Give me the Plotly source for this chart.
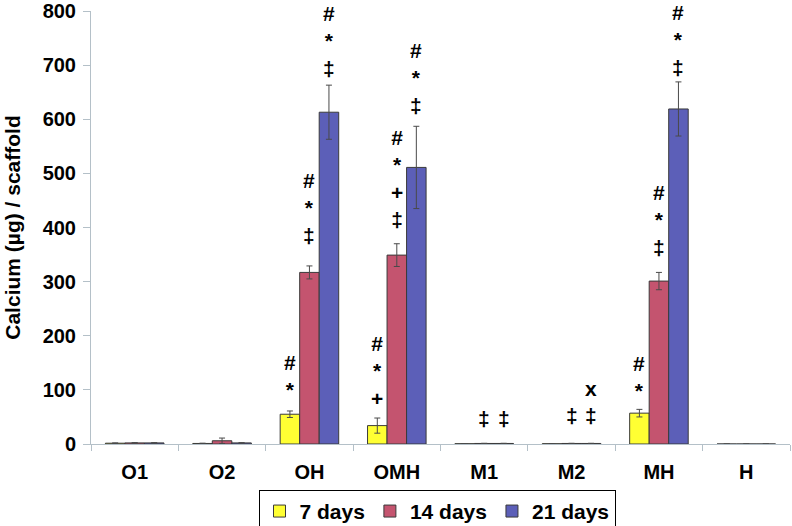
import plotly.graph_objects as go

# categories and series
gruppi = ["O1", "O2", "OH", "OMH", "M1", "M2", "MH", "H"]
serie = ["7 days", "14 days", "21 days"]
colori = ["#FFFF33", "#C4546F", "#5C5FB8"]

giorni7 = [1.5, 1, 55, 34, 0.5, 0.5, 57, 0]
giorni14 = [2, 6, 317, 349, 1, 1, 301, 0]
giorni21 = [2, 2, 613, 511, 1, 1, 619, 0]

err7 = [0.5, 0.5, 6, 14, 0.3, 0.3, 7, 0]
err14 = [0.5, 5, 12, 21, 0.3, 0.3, 16, 0]
err21 = [0.5, 0.5, 50, 76, 0.3, 0.3, 50, 0]

# significance marks: (group index, series index, text, value of the stack base)
simboli = [
    (2, 0, "#<br>*", 91),
    (2, 1, "#<br>*<br>‡", 375),
    (2, 2, "#<br>*<br>‡", 683),
    (3, 0, "#<br>*<br>+", 73),
    (3, 1, "#<br>*<br>+<br>‡", 405),
    (3, 2, "#<br>*<br>‡", 615),
    (4, 1, "‡", 37),
    (4, 2, "‡", 37),
    (5, 1, "‡", 42),
    (5, 2, "x<br>‡", 42),
    (6, 0, "#<br>*", 88),
    (6, 1, "#<br>*<br>‡", 353),
    (6, 2, "#<br>*<br>‡", 686),
]

valori = [giorni7, giorni14, giorni21]
errori = [err7, err14, err21]

BARGAP = 0.33
larghezza = (1 - BARGAP) / 3

font_base = dict(family="Liberation Sans, Arial", size=20, color="black", weight="bold")

fig = go.Figure()
for nome, y, e, c in zip(serie, valori, errori, colori):
    fig.add_trace(go.Bar(
        x=gruppi, y=y, name=nome,
        marker=dict(color=c, line=dict(color="#3a3a3a", width=1)),
        error_y=dict(type="data", array=e, color="#4a4a4a", thickness=1, width=3),
    ))

for g, s, testo, base in simboli:
    fig.add_annotation(
        x=g + (s - 1) * larghezza, y=base, xref="x", yref="y",
        text=testo, showarrow=False, yanchor="bottom", yshift=-8,
        font=dict(family="Liberation Sans, Arial", size=21, color="black", weight="bold"),
    )

fig.update_layout(
    width=792, height=526,
    margin=dict(l=91, r=2, t=11, b=82, autoexpand=False),
    plot_bgcolor="white", paper_bgcolor="white",
    barmode="group", bargap=BARGAP, bargroupgap=0,
    font=font_base,
    legend=dict(
        orientation="h", x=0.495, xanchor="center", y=-0.106, yanchor="top",
        bordercolor="black", borderwidth=1, font=dict(size=21),
        tracegroupgap=0, itemwidth=30,
    ),
)
fig.update_xaxes(
    showline=True, linecolor="#B4C0C8", linewidth=1,
    ticks="outside", tickson="boundaries", ticklen=6, tickcolor="#B4C0C8",
    ticklabelstandoff=10, tickfont=dict(size=20),
)
fig.update_yaxes(
    range=[0, 800], dtick=100, showgrid=False, zeroline=False,
    showline=True, linecolor="#B4C0C8", linewidth=1,
    ticks="outside", ticklen=7, tickcolor="#B4C0C8",
    ticklabelstandoff=3, tickfont=dict(size=20),
    title=dict(text="Calcium (µg) / scaffold", font=dict(size=21), standoff=16),
)

# the page body has a default 8px margin; drop it so the figure fills the window
fig.write_html(
    "out.html",
    config={"displayModeBar": False},
    post_script="document.body.style.margin='0';",
)
